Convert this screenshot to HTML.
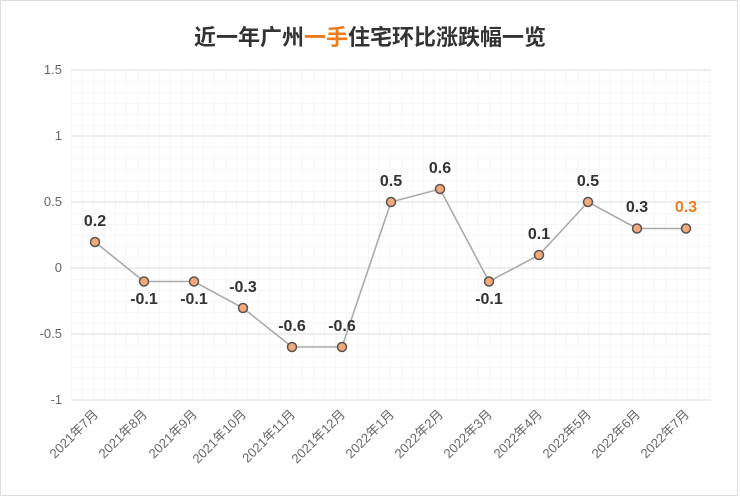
<!DOCTYPE html>
<html><head><meta charset="utf-8"><style>
body{margin:0;background:#fff;}
svg{display:block;font-family:"Liberation Sans","Noto Sans CJK SC",sans-serif;}
</style></head><body>
<svg width="740" height="497" viewBox="0 0 740 497" xmlns="http://www.w3.org/2000/svg">
<defs>
<pattern id="g" x="71" y="70" width="11" height="11" patternUnits="userSpaceOnUse">
<path d="M0 0H11M0 0V11" stroke="#eeeeee" stroke-width="1" fill="none"/>
</pattern>
</defs>
<rect x="0.5" y="0.5" width="737" height="495" fill="#fff" stroke="#dddddd"/>
<text x="370" y="45" text-anchor="middle" font-size="22" font-weight="bold" fill="#333" font-family="'Noto Sans CJK SC',sans-serif">近一年广州<tspan fill="#f07a1e">一手</tspan>住宅环比涨跌幅一览</text>
<rect x="71" y="70" width="640" height="330" fill="url(#g)"/>
<g stroke="#dcdcdc" stroke-width="1">
<line x1="71" y1="70" x2="711" y2="70"/><line x1="71" y1="136" x2="711" y2="136"/>
<line x1="71" y1="202" x2="711" y2="202"/><line x1="71" y1="268" x2="711" y2="268"/>
<line x1="71" y1="334" x2="711" y2="334"/><line x1="71" y1="400" x2="711" y2="400"/>
</g>
<g font-size="13" fill="#666" text-anchor="end">
<text x="62" y="74">1.5</text><text x="62" y="140">1</text><text x="62" y="206">0.5</text>
<text x="62" y="272">0</text><text x="62" y="338">-0.5</text><text x="62" y="404">-1</text>
</g>
<polyline fill="none" stroke="#aaa" stroke-width="1.6" points="95,242 144,281.5 194,281.5 243,308 292,347 342,347 391,202 440,189 489,281.5 539,255 588,202 637,228.5 686,228.5"/>
<g fill="#f5a878" stroke="#555" stroke-width="1.5">
<circle cx="95" cy="242" r="4.5"/><circle cx="144" cy="281.5" r="4.5"/><circle cx="194" cy="281.5" r="4.5"/><circle cx="243" cy="308" r="4.5"/><circle cx="292" cy="347" r="4.5"/><circle cx="342" cy="347" r="4.5"/><circle cx="391" cy="202" r="4.5"/><circle cx="440" cy="189" r="4.5"/><circle cx="489" cy="281.5" r="4.5"/><circle cx="539" cy="255" r="4.5"/><circle cx="588" cy="202" r="4.5"/><circle cx="637" cy="228.5" r="4.5"/><circle cx="686" cy="228.5" r="4.5"/>
</g>
<g font-size="16" font-weight="bold" fill="#333" text-anchor="middle">
<text x="95" y="226">0.2</text><text x="144" y="304">-0.1</text><text x="194" y="304">-0.1</text>
<text x="243" y="292">-0.3</text><text x="292" y="331">-0.6</text><text x="342" y="331">-0.6</text>
<text x="391" y="186">0.5</text><text x="440" y="173">0.6</text><text x="489" y="304">-0.1</text>
<text x="539" y="239">0.1</text><text x="588" y="186">0.5</text><text x="637" y="212">0.3</text>
<text x="686" y="212" fill="#f07a1e">0.3</text>
</g>
<g font-size="13" fill="#666" text-anchor="end">
<text transform="translate(99,415) rotate(-45)">2021年7月</text>
<text transform="translate(148,415) rotate(-45)">2021年8月</text>
<text transform="translate(198,415) rotate(-45)">2021年9月</text>
<text transform="translate(247,415) rotate(-45)">2021年10月</text>
<text transform="translate(296,415) rotate(-45)">2021年11月</text>
<text transform="translate(346,415) rotate(-45)">2021年12月</text>
<text transform="translate(395,415) rotate(-45)">2022年1月</text>
<text transform="translate(444,415) rotate(-45)">2022年2月</text>
<text transform="translate(493,415) rotate(-45)">2022年3月</text>
<text transform="translate(543,415) rotate(-45)">2022年4月</text>
<text transform="translate(592,415) rotate(-45)">2022年5月</text>
<text transform="translate(641,415) rotate(-45)">2022年6月</text>
<text transform="translate(690,415) rotate(-45)">2022年7月</text>
</g>
</svg>
</body></html>
